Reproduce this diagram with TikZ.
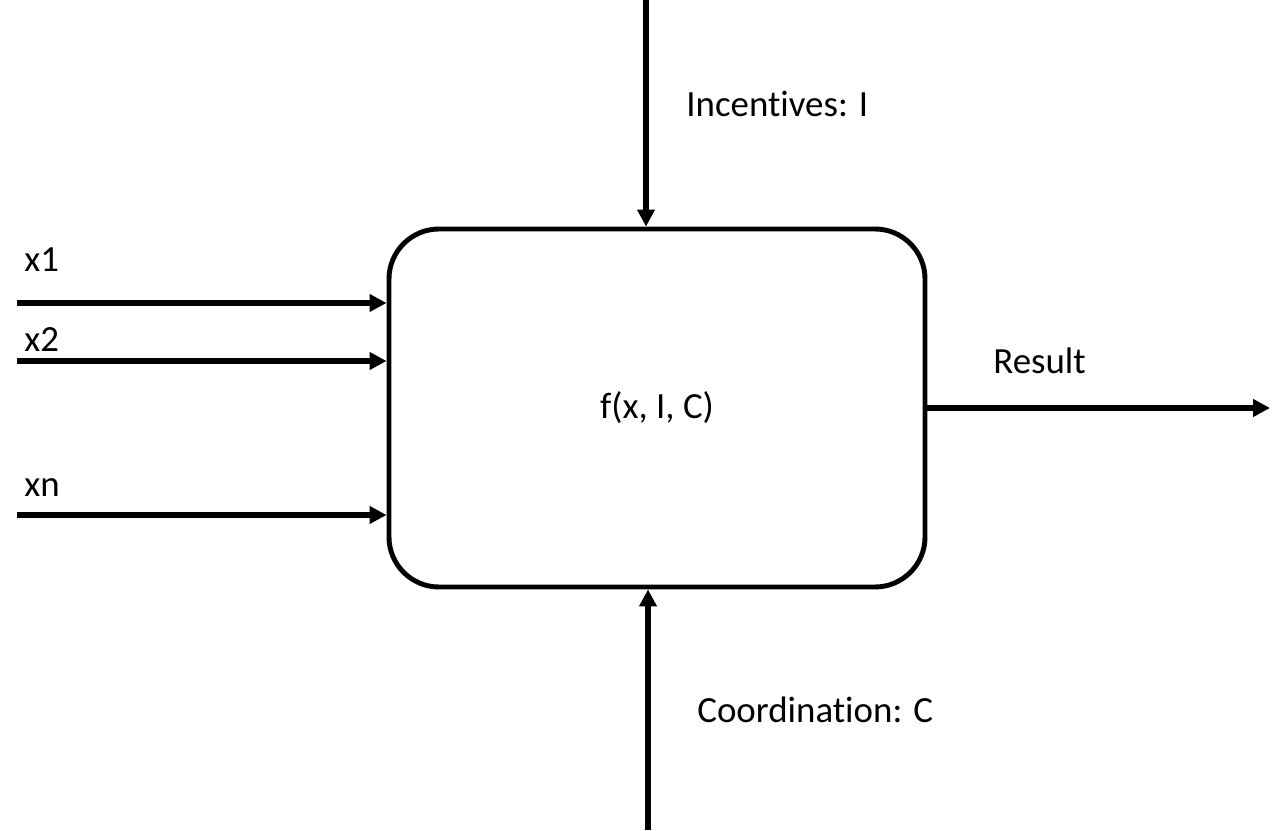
\documentclass[tikz,border=0pt]{standalone}
\usepackage{fontspec}
\setmainfont[Ligatures=NoCommon]{Carlito}
\usetikzlibrary{arrows.meta,calc}

\begin{document}
\begin{tikzpicture}[
    myarrow/.style={-{Triangle[length=0.34cm,width=0.34cm]}, line width=3.2pt},
    mylabel/.style={anchor=base west, inner sep=0pt, font=\fontsize{21}{24}\selectfont}
  ]
    \useasboundingbox (0,0) rectangle (25.76,16.6);

    % the function box
    \node[draw, line width=2.8pt, rounded corners=1cm, minimum width=10.72cm,
          minimum height=7.16cm, font=\fontsize{21}{24}\selectfont]
          (fbox) at (13.14,8.44) {f(x, I, C)};

    % inputs
    \coordinate (in1) at (0.34,10.54);
    \coordinate (in2) at (0.34,9.38);
    \coordinate (inn) at (0.34,6.30);
    \draw[myarrow] (in1) -- (in1 -| fbox.west);
    \draw[myarrow] (in2) -- (in2 -| fbox.west);
    \draw[myarrow] (inn) -- (inn -| fbox.west);
    \node[mylabel] (lx1) at (0.48,11.16) {x1};
    \node[mylabel] (lx2) at (0.48,9.56) {x2};
    \node[mylabel] (lxn) at (0.48,6.66) {xn};

    % incentives and coordination
    \coordinate (inc) at (12.92,16.6);
    \draw[myarrow] (inc) -- (inc |- fbox.north);
    \node[mylabel] (linc) at (13.72,14.26) {Incentives: I};

    \coordinate (coo) at (12.96,0);
    \draw[myarrow] (coo) -- (coo |- fbox.south);
    \node[mylabel] (lcoo) at (13.94,2.16) {Coordination: C};

    % output
    \coordinate (res) at (25.4,8.44);
    \draw[myarrow] (fbox.east) -- (res);
    \node[mylabel] (lres) at (19.86,9.12) {Result};
\end{tikzpicture}
\end{document}
